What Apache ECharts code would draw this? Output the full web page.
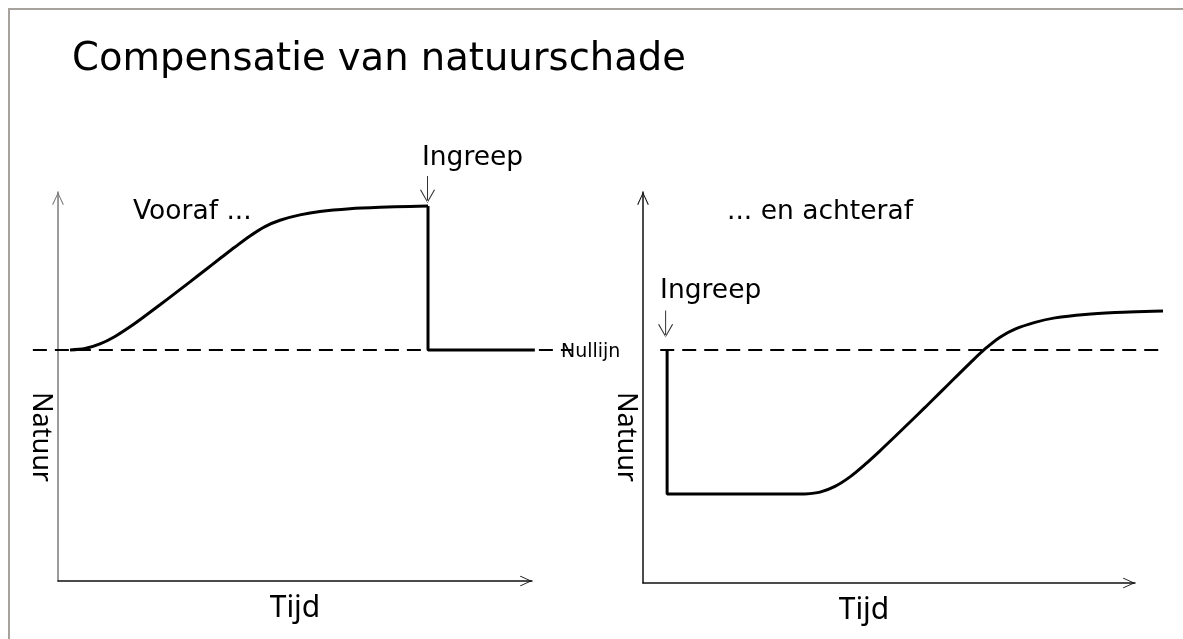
<!DOCTYPE html>
<html><head><meta charset="utf-8">
<script src="https://cdn.jsdelivr.net/npm/echarts@6/dist/echarts.min.js"></script>
<style>html,body{margin:0;padding:0;background:#fff}#c{width:1183px;height:639px}</style>
</head><body><div id="c"></div>
<script>
// Left panel ("Vooraf ..."): nature level over time, 0 = Nullijn
const leftCurveTime    = [0.253, 0.570, 0.886, 1.203, 1.519, 1.835, 2.152, 2.468, 2.785, 3.101, 3.418, 3.734, 4.051, 4.367, 4.684, 5.105, 5.527, 6.160, 6.793, 7.426, 7.806];
const leftCurveNature  = [0, 0.010, 0.042, 0.094, 0.161, 0.236, 0.314, 0.393, 0.473, 0.554, 0.635, 0.715, 0.792, 0.857, 0.901, 0.938, 0.962, 0.981, 0.991, 0.997, 1.0];
const leftDropTime     = [7.806, 7.806, 10.06];
const leftDropNature   = [1.0, 0, 0];
// Right panel ("... en achteraf")
const rightDropTime    = [0.49, 0.49, 3.293];
const rightDropNature  = [0, -1, -1];
const rightCurveTime   = [3.293, 3.598, 3.902, 4.207, 4.512, 4.817, 5.122, 5.427, 5.732, 6.037, 6.341, 6.646, 6.951, 7.256, 7.561, 7.967, 8.374, 8.984, 9.593, 10.203, 10.569];
const rightCurveNature = [-1, -0.987, -0.947, -0.881, -0.795, -0.700, -0.601, -0.500, -0.399, -0.296, -0.193, -0.091, 0.007, 0.089, 0.145, 0.192, 0.223, 0.247, 0.260, 0.267, 0.271];
// Nullijn extents
const nullLeftTime  = [-0.53, 10.84];
const nullRightTime = [0.35, 10.61];
// Ingreep moments
const ingreepLeft  = [7.806, 1.0];
const ingreepRight = [0.49, 0];
// Texts
const titleText = 'Compensatie van natuurschade';
const leftCaption = 'Vooraf ...';
const rightCaption = '... en achteraf';
const ingreepLabel = 'Ingreep';
const nullLabel = 'Nullijn';
const xName = 'Tijd';
const yName = 'Natuur';

const zip = (a, b) => a.map((v, i) => [v, b[i]]);
const chevron = 'path://M0,13 L6,0 L12,13 L11,13.4 L6,2.3 L1,13.4 Z';
const downArrow = 'path://M7,0 L8,0 L8,26 L7,26 Z M0,14 L7.5,27 L15,14 L14,13.5 L7.5,25 L1,13.5 Z';
const verdana = 'DejaVu Sans';
const segoe = 'Noto Sans';

function xAxisCfg(gi, color, namePad) {
  return {
    type: 'value', gridIndex: gi, min: 0, max: 10,
    axisLabel: { show: false }, axisTick: { show: false }, splitLine: { show: false },
    axisLine: { show: true, onZero: false, symbol: ['none', chevron], symbolSize: [13, 12], symbolOffset: [0, -6],
      lineStyle: { color: color, width: 1.5 } },
    name: xName, nameLocation: 'middle', nameGap: 12,
    nameTextStyle: { fontFamily: segoe, fontSize: 30, color: '#000', verticalAlign: 'top', padding: namePad }
  };
}
function yAxisCfg(gi, color, min) {
  return {
    type: 'value', gridIndex: gi, min: min, max: 1.097,
    axisLabel: { show: false }, axisTick: { show: false }, splitLine: { show: false },
    axisLine: { show: true, onZero: false, symbol: ['none', chevron], symbolSize: [13, 13], symbolOffset: [0, -6.5],
      lineStyle: { color: color, width: 1.5 } }
  };
}
// hidden data axes sharing the same scale as the visible axes, but wider, so marks may pass the arrows
function hiddenX(gi, min, max) { return { type: 'value', gridIndex: gi, min: min, max: max, show: false }; }
function hiddenY(gi, min) { return { type: 'value', gridIndex: gi, min: min, max: 1.097, show: false }; }

const solid = { color: '#000', width: 3 };
const dashed = { color: '#000', width: 2, type: [14, 8] };

function ingreepMark(coord, off, labelPos) {
  return {
    silent: true,
    symbol: downArrow, symbolSize: [15, 27], symbolOffset: off,
    itemStyle: { color: '#333' },
    label: { show: true, formatter: ingreepLabel, position: labelPos, align: 'left', verticalAlign: 'middle',
      fontFamily: verdana, fontSize: 26.5, color: '#000' },
    data: [{ coord: coord }]
  };
}

const option = {
  animation: false,
  backgroundColor: '#fff',
  grid: [
    { left: 58, top: 192, right: 1183 - 532, bottom: 639 - 581 },
    { left: 643, top: 192, right: 1183 - 1135, bottom: 639 - 583 },
    { left: 33, top: 192, right: 1183 - 575, bottom: 639 - 581 },
    { left: 655, top: 192, right: 1183 - 1170, bottom: 639 - 583 }
  ],
  xAxis: [xAxisCfg(0, '#111', [0, 0, 0, 0]), xAxisCfg(1, '#111', [0, 50, 0, 0]),
          hiddenX(2, -0.5274, 10.907), hiddenX(3, 0.2439, 10.711)],
  yAxis: [yAxisCfg(0, '#7a7a7a', -1.604), yAxisCfg(1, '#111', -1.618),
          hiddenY(2, -1.604), hiddenY(3, -1.618)],
  series: [
    { type: 'line', xAxisIndex: 2, yAxisIndex: 2, data: nullLeftTime.map(t => [t, 0]), symbol: 'none', lineStyle: dashed, z: 2 },
    { type: 'line', xAxisIndex: 3, yAxisIndex: 3, data: nullRightTime.map(t => [t, 0]), symbol: 'none', lineStyle: dashed, z: 2 },
    { type: 'line', xAxisIndex: 2, yAxisIndex: 2, data: zip(leftCurveTime, leftCurveNature), symbol: 'none',
      smooth: 0.3, lineStyle: solid, z: 3 },
    { type: 'line', xAxisIndex: 2, yAxisIndex: 2, data: zip(leftDropTime, leftDropNature), symbol: 'none',
      lineStyle: solid, z: 3, markPoint: ingreepMark(ingreepLeft, [-0.5, -16.5], [2, -18]) },
    { type: 'line', xAxisIndex: 3, yAxisIndex: 3, data: zip(rightDropTime, rightDropNature), symbol: 'none',
      lineStyle: solid, z: 3, markPoint: ingreepMark(ingreepRight, [-1.5, -26], [2, -19]) },
    { type: 'line', xAxisIndex: 3, yAxisIndex: 3, data: zip(rightCurveTime, rightCurveNature), symbol: 'none',
      smooth: 0.3, lineStyle: solid, z: 3 }
  ],
  graphic: [
    { type: 'polyline', silent: true, shape: { points: [[9, 639], [9, 9], [1183, 9]] }, style: { stroke: '#a8a29c', lineWidth: 2, fill: null } },
    { type: 'text', silent: true, style: { x: 72, y: 60, text: titleText, fontFamily: verdana, fontSize: 38.5, fill: '#000', textVerticalAlign: 'middle' } },
    { type: 'text', silent: true, style: { x: 133, y: 212, text: leftCaption, fontFamily: verdana, fontSize: 26.5, fill: '#000', textVerticalAlign: 'middle' } },
    { type: 'text', silent: true, style: { x: 727, y: 212, text: rightCaption, fontFamily: verdana, fontSize: 26.5, fill: '#000', textVerticalAlign: 'middle' } },
    { type: 'text', silent: true, z: 10, style: { x: 561, y: 352, text: nullLabel, fontFamily: verdana, fontSize: 19, fill: '#000', textVerticalAlign: 'middle' } },
    { type: 'text', silent: true, x: 41, y: 437, rotation: -Math.PI / 2, style: { x: 0, y: 0, text: yName, fontFamily: segoe, fontSize: 27, fill: '#000', textAlign: 'center', textVerticalAlign: 'middle' } },
    { type: 'text', silent: true, x: 626, y: 437, rotation: -Math.PI / 2, style: { x: 0, y: 0, text: yName, fontFamily: segoe, fontSize: 27, fill: '#000', textAlign: 'center', textVerticalAlign: 'middle' } }
  ]
};
const chart = echarts.init(document.getElementById('c'), null, { renderer: 'canvas' });
chart.setOption(option);
</script>
</body></html>
